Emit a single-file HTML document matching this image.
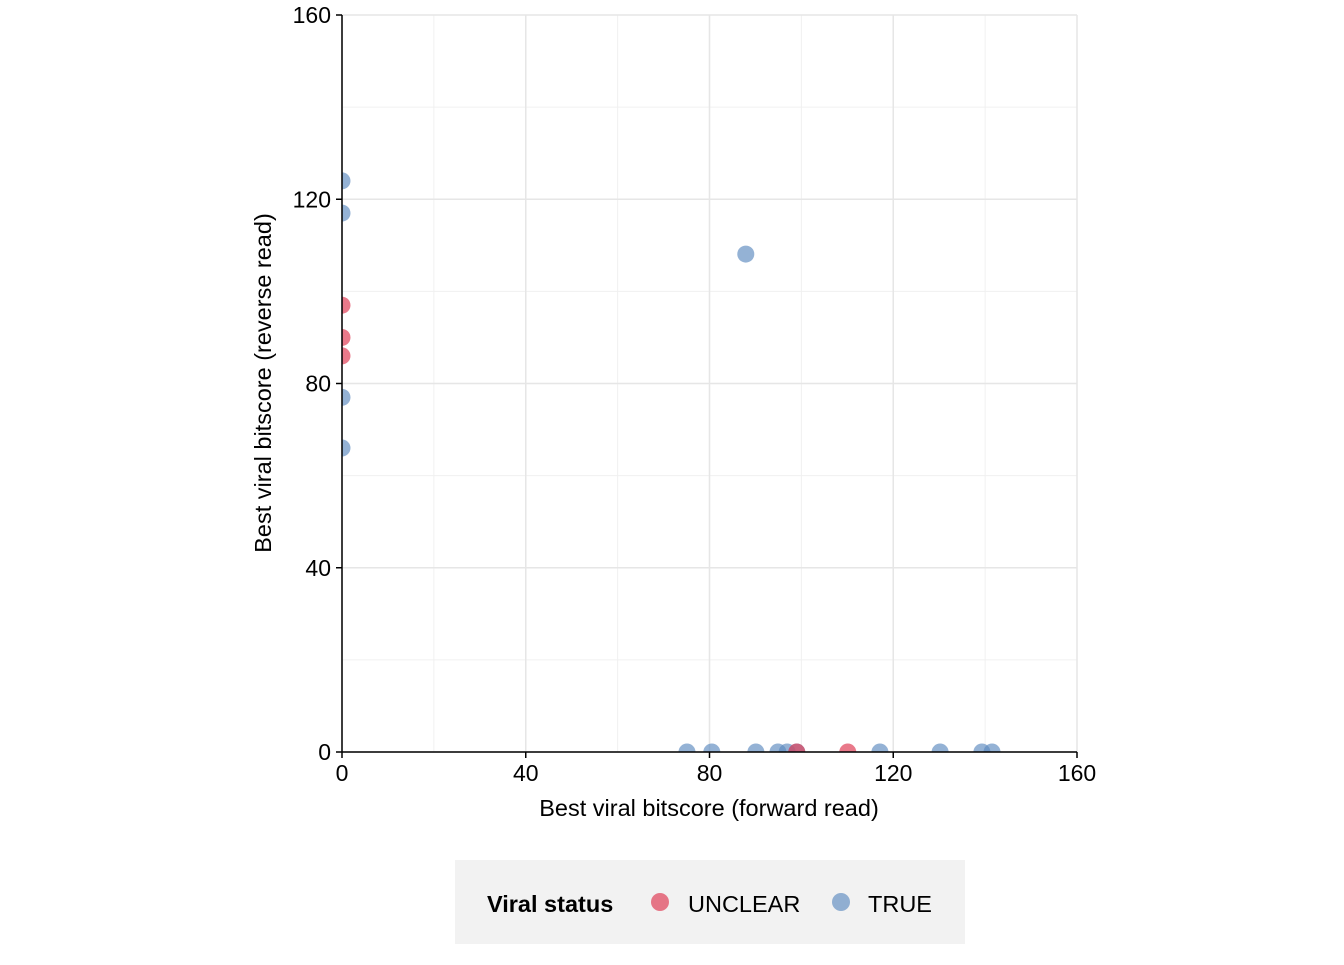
<!DOCTYPE html>
<html><head><meta charset="utf-8"><style>
body{margin:0;background:#fff;font-family:"Liberation Sans",Arial,sans-serif}
</style></head><body>
<svg id="chart" width="1344" height="960" xmlns="http://www.w3.org/2000/svg" font-family="Liberation Sans, Arial, sans-serif">
<defs><clipPath id="panel"><rect x="342" y="15" width="735" height="737"/></clipPath></defs>
<g id="grid"></g>
<g id="points" clip-path="url(#panel)"></g>
<g id="axes"></g>
<text x="709" y="816" font-size="23.5" text-anchor="middle">Best viral bitscore (forward read)</text>
<text transform="translate(271,383) rotate(-90)" font-size="23.5" text-anchor="middle">Best viral bitscore (reverse read)</text>
<g>
<rect x="455" y="860" width="510" height="84" fill="#f2f2f2"/>
<text x="487" y="912" font-size="23.5" font-weight="bold">Viral status</text>
<circle cx="660" cy="902" r="9" fill="#e04058" fill-opacity="0.7"/>
<text x="688" y="912" font-size="23.5">UNCLEAR</text>
<circle cx="841" cy="902" r="9" fill="#5b88bf" fill-opacity="0.65"/>
<text x="868" y="912" font-size="23.5">TRUE</text>
</g>
</svg>
<script>
const ticks=[0,40,80,120,160];
const minorTicks=[20,60,100,140];
const trueX=[75.1,80.5,90.1,94.9,96.9,99.0,117.1,130.2,139.3,141.5,87.9,0,0,0,0];
const trueY=[0,0,0,0,0,0,0,0,0,0,108.1,124,117,77,66];
const unclearX=[99.0,110.1,0,0,0];
const unclearY=[0,0,97,90,86];
const NS="http://www.w3.org/2000/svg";
const X0=342,X1=1077,Y0=752,Y1=15;
const sx=v=>X0+(v/160)*(X1-X0);
const sy=v=>Y0-(v/160)*(Y0-Y1);
function mk(tag,attrs,parent){const e=document.createElementNS(NS,tag);for(const k in attrs)e.setAttribute(k,attrs[k]);parent.appendChild(e);return e;}
const grid=document.getElementById('grid'),pts=document.getElementById('points'),axes=document.getElementById('axes');
minorTicks.forEach(t=>{
 let a=mk('line',{x1:sx(t),x2:sx(t),y1:Y1,y2:Y0,stroke:'#f0f0f0','stroke-width':1},grid);
 
 
 let b=mk('line',{x1:X0,x2:X1,y1:sy(t),y2:sy(t),stroke:'#f0f0f0','stroke-width':1},grid);
 
 
});
ticks.forEach(t=>{
 let a=mk('line',{x1:sx(t),x2:sx(t),y1:Y1,y2:Y0,stroke:'#e6e6e6','stroke-width':1.5},grid);
 
 
 let b=mk('line',{x1:X0,x2:X1,y1:sy(t),y2:sy(t),stroke:'#e6e6e6','stroke-width':1.5},grid);
 
 
 let tx=mk('line',{x1:sx(t),x2:sx(t),y1:Y0,y2:Y0+6,stroke:'#000','stroke-width':1.5},axes);
 
 
 let lx=mk('text',{x:sx(t),y:Y0+29,'font-size':23,'text-anchor':'middle'},axes);lx.textContent=t;
 
 
 let ty=mk('line',{x1:X0-6,x2:X0,y1:sy(t),y2:sy(t),stroke:'#000','stroke-width':1.5},axes);
 
 
 let ly=mk('text',{x:X0-11,y:sy(t)+8,'font-size':23,'text-anchor':'end'},axes);ly.textContent=t;
 
 
});
let ax=mk('line',{x1:X0,x2:X1,y1:Y0,y2:Y0,stroke:'#000','stroke-width':1.5},axes);


let ay=mk('line',{x1:X0,x2:X0,y1:Y1,y2:Y0,stroke:'#000','stroke-width':1.5},axes);


trueX.forEach((v,i)=>{
 let c=mk('circle',{cx:sx(v),cy:sy(trueY[i]),r:8.5,fill:'#5b88bf','fill-opacity':0.65},pts);
 
 
});
unclearX.forEach((v,i)=>{
 let c=mk('circle',{cx:sx(v),cy:sy(unclearY[i]),r:8.5,fill:'#e04058','fill-opacity':0.7},pts);
 
 
});
</script>
</body></html>
